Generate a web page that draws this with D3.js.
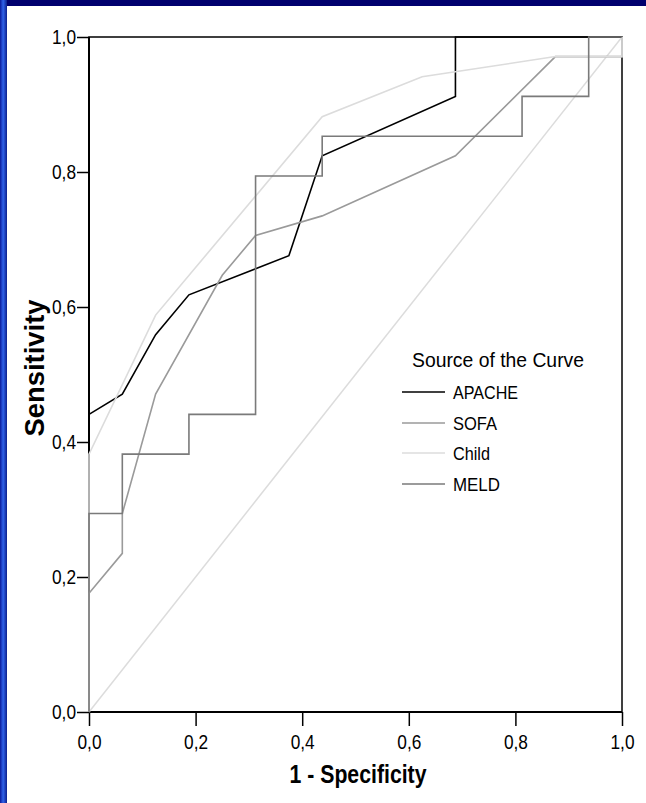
<!DOCTYPE html>
<html>
<head>
<meta charset="utf-8">
<script src="https://cdn.jsdelivr.net/npm/d3@7"></script>
<style>
  html, body { margin: 0; padding: 0; background: #fff; }
  svg { display: block; font-family: "Liberation Sans", Arial, sans-serif; }
</style>
</head>
<body>
<svg id="chart" width="646" height="803"></svg>
<script>
// ---- data ----
const seriesNames = ["APACHE", "SOFA", "Child", "MELD"];
const seriesColors = ["#000000", "#9a9a9a", "#dcdcdc", "#7a7a7a"];

const apacheX = [0, 0, 0.0625, 0.125, 0.1875, 0.375, 0.4375, 0.6875, 0.6875, 1];
const apacheY = [0, 0.441, 0.471, 0.559, 0.618, 0.676, 0.824, 0.912, 1, 1];

const sofaX = [0, 0, 0.0625, 0.0625, 0.125, 0.25, 0.3125, 0.4375, 0.6875, 0.875, 1, 1];
const sofaY = [0, 0.176, 0.235, 0.294, 0.471, 0.647, 0.706, 0.735, 0.824, 0.971, 0.971, 1];

const childX = [0, 0, 0.125, 0.4375, 0.625, 0.875, 1, 1];
const childY = [0, 0.382, 0.588, 0.882, 0.941, 0.971, 0.971, 1];

const meldX = [0, 0, 0.0625, 0.0625, 0.1875, 0.1875, 0.3125, 0.3125, 0.4375, 0.4375, 0.8125, 0.8125, 0.9375, 0.9375, 1];
const meldY = [0, 0.294, 0.294, 0.382, 0.382, 0.441, 0.441, 0.794, 0.794, 0.853, 0.853, 0.912, 0.912, 1, 1];

const refX = [0, 1];
const refY = [0, 1];

const tickValues = [0, 0.2, 0.4, 0.6, 0.8, 1.0];
const tickLabels = ["0,0", "0,2", "0,4", "0,6", "0,8", "1,0"];

const xTitle = "1 - Specificity";
const yTitle = "Sensitivity";
const legendTitle = "Source of the Curve";

// ---- layout ----
(function () {
const svg = d3.select("#chart");
const pL = 89, pR = 622, pT = 37, pB = 712;

// background decoration (slide border)
const defs = svg.append("defs");
const grad = defs.append("linearGradient").attr("id", "lb").attr("x1", 0).attr("x2", 1).attr("y1", 0).attr("y2", 0);
grad.append("stop").attr("offset", "0%").attr("stop-color", "#0a1a9a");
grad.append("stop").attr("offset", "45%").attr("stop-color", "#2f63ea");
grad.append("stop").attr("offset", "100%").attr("stop-color", "#0b1f8c");
svg.append("rect").attr("x", 0).attr("y", 0).attr("width", 646).attr("height", 803).attr("fill", "#fff");
svg.append("rect").attr("x", 0).attr("y", 0).attr("width", 646).attr("height", 6).attr("fill", "#00006e");
svg.append("rect").attr("x", 0).attr("y", 0).attr("width", 7).attr("height", 803).attr("fill", "url(#lb)");

const x = d3.scaleLinear().domain([0, 1]).range([pL, pR]);
const y = d3.scaleLinear().domain([0, 1]).range([pB, pT]);

const fmt = v => tickLabels[tickValues.indexOf(v)];

// axes
const gx = svg.append("g").attr("transform", `translate(0,${pB})`)
  .call(d3.axisBottom(x).tickValues(tickValues).tickFormat(fmt).tickSize(14).tickPadding(9).tickSizeOuter(0));
const gy = svg.append("g").attr("transform", `translate(${pL},0)`)
  .call(d3.axisLeft(y).tickValues(tickValues).tickFormat(fmt).tickSize(12).tickPadding(1).tickSizeOuter(0));
[gx, gy].forEach(g => {
  g.select(".domain").remove();
  g.selectAll(".tick line").attr("stroke", "#000").attr("stroke-width", 1.5);
  g.selectAll(".tick text").attr("fill", "#000").attr("font-size", 19.5)
    .attr("font-family", "Liberation Sans, Arial, sans-serif")
    .attr("textLength", 24).attr("lengthAdjust", "spacingAndGlyphs");
});

// frame
svg.append("rect").attr("x", pL).attr("y", pT).attr("width", pR - pL).attr("height", pB - pT)
  .attr("fill", "none").attr("stroke", "#000").attr("stroke-width", 1.5);
svg.append("line").attr("x1", pL).attr("x2", pR).attr("y1", pB).attr("y2", pB)
  .attr("stroke", "#000").attr("stroke-width", 2.2);
svg.append("line").attr("x1", pL).attr("x2", pL).attr("y1", pT).attr("y2", pB)
  .attr("stroke", "#000").attr("stroke-width", 2);

const line = d3.line().x(d => x(d[0])).y(d => y(d[1]));
const zip = (a, b) => a.map((v, i) => [v, b[i]]);

// reference diagonal
svg.append("path").attr("d", line(zip(refX, refY))).attr("fill", "none")
  .attr("stroke", "#dcdcdc").attr("stroke-width", 1.5);

const series = [zip(apacheX, apacheY), zip(sofaX, sofaY), zip(childX, childY), zip(meldX, meldY)];
series.forEach((pts, i) => {
  svg.append("path").attr("d", line(pts)).attr("fill", "none")
    .attr("stroke", seriesColors[i]).attr("stroke-width", 1.6).attr("stroke-linejoin", "miter");
});

// axis titles
svg.append("text").attr("x", 358).attr("y", 783).attr("text-anchor", "middle")
  .attr("font-size", 25).attr("font-weight", "bold").attr("textLength", 137).attr("lengthAdjust", "spacingAndGlyphs")
  .text(xTitle);
svg.append("text").attr("transform", "translate(44,368) rotate(-90)").attr("text-anchor", "middle")
  .attr("font-size", 28).attr("font-weight", "bold").attr("textLength", 137).attr("lengthAdjust", "spacingAndGlyphs")
  .text(yTitle);

// legend
svg.append("text").attr("x", 412).attr("y", 367).attr("font-size", 20.5)
  .attr("textLength", 172).attr("lengthAdjust", "spacingAndGlyphs").text(legendTitle);
const legendY = [392, 423, 453, 484];
const legendW = [65, 44, 37, 47];
seriesNames.forEach((name, i) => {
  svg.append("line").attr("x1", 402).attr("x2", 445).attr("y1", legendY[i]).attr("y2", legendY[i])
    .attr("stroke", seriesColors[i]).attr("stroke-width", 1.6);
  svg.append("text").attr("x", 453).attr("y", legendY[i] + 7).attr("font-size", 19)
    .attr("textLength", legendW[i]).attr("lengthAdjust", "spacingAndGlyphs").text(name);
});
})();
</script>
</body>
</html>
